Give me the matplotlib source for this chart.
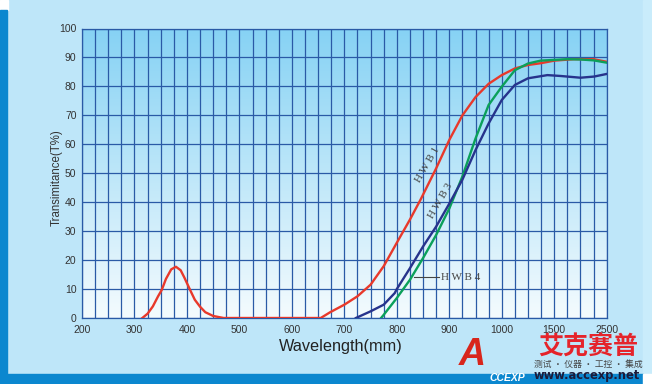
import numpy as np
import matplotlib.pyplot as plt
from matplotlib.colors import LinearSegmentedColormap
from matplotlib.patches import Rectangle

plt.rcParams['font.family'] = ['Liberation Sans', 'DejaVu Sans']

# transmittance curves (wavelength, T%)
hwb1_wl = [315, 325, 335, 345, 352, 360, 370, 379, 388, 395, 406, 415, 425, 435, 450, 470,
           550, 655, 673, 700, 725, 750, 775, 800, 825, 845, 875, 900, 925, 950, 975,
           1000, 1125, 1250, 1370, 1500, 1870, 2250, 2500]
hwb1_t = [0, 1.5, 4, 7.5, 9.7, 13.5, 16.8, 17.7, 16.5, 14, 9.7, 6.3, 3.9, 2, 0.7, 0,
          0, 0, 2.0, 4.6, 7.5, 11.5, 17.9, 26.0, 34.0, 40.8, 51.7, 61.5, 70.0, 76.3, 80.9,
          83.9, 86.2, 87.4, 88.0, 88.9, 89.4, 89.4, 88.5]

hwb3_wl = [722, 750, 775, 796, 800, 825, 850, 875, 900, 925, 950, 975, 1000, 1125, 1250,
           1435, 1620, 2000, 2260, 2500]
hwb3_t = [0, 2.3, 4.6, 8.6, 10.0, 17.2, 24.7, 31.6, 39.5, 47.8, 58.0, 67.2, 75.3, 80.5, 82.8,
          83.9, 83.6, 83.0, 83.4, 84.3]

hwb4_wl = [770, 775, 800, 825, 850, 875, 900, 925, 950, 975, 1000, 1125, 1250, 1370,
           1750, 2000, 2250, 2500]
hwb4_t = [0, 1.1, 6.9, 13.2, 20.7, 28.7, 37.8, 48.9, 62.0, 73.6, 79.9, 85.6, 87.9, 88.9,
          89.4, 89.3, 89.0, 88.2]

x_ticks = [200, 300, 400, 500, 600, 700, 800, 900, 1000, 1500, 2500]
y_ticks = [0, 10, 20, 30, 40, 50, 60, 70, 80, 90, 100]


# broken wavelength axis: 100 nm steps up to 1000, then 500, then 1000
def fwd(w):
    w = np.asarray(w, float)
    return np.where(w <= 1000, (w - 200) / 100,
                    np.where(w <= 1500, 8 + (w - 1000) / 500, 9 + (w - 1500) / 1000))


def inv(p):
    p = np.asarray(p, float)
    return np.where(p <= 8, 200 + 100 * p,
                    np.where(p <= 9, 1000 + 500 * (p - 8), 1500 + 1000 * (p - 9)))


W, H = 652, 384
fig = plt.figure(figsize=(W / 100, H / 100), dpi=100, facecolor='#bee6f9')

# frame decoration
def px_rect(x0, y0, x1, y1, color):
    fig.patches.append(Rectangle((x0 / W, 1 - y1 / H), (x1 - x0) / W, (y1 - y0) / H,
                                 transform=fig.transFigure, color=color, zorder=0))

px_rect(643, 0, 652, 374, '#c9ecfb')
px_rect(0, 0, 8, 10, 'white')
px_rect(0, 10, 7, 384, '#0b87cf')
px_rect(0, 374, 643, 384, '#0b87cf')
px_rect(643, 374, 652, 384, 'white')

ax = fig.add_axes([82 / W, 66 / H, 524.7 / W, 289.5 / H])
ax.set_xscale('function', functions=(fwd, inv))

cmap = LinearSegmentedColormap.from_list('bg', ['#f4fbfe', '#86d2f4'])
grad = np.linspace(0, 1, 256).reshape(-1, 1)
ax.imshow(grad, extent=[0, 1, 0, 1], transform=ax.transAxes, origin='lower',
          aspect='auto', cmap=cmap, zorder=0)
ax.set_xlim(200, 2500)
ax.set_ylim(0, 100)

grid_c = '#2a5aa6'
ax.set_xticks(x_ticks)
ax.set_xticks(inv(np.arange(0, 10.01, 0.25)), minor=True)
ax.set_yticks(y_ticks)
ax.grid(True, which='both', axis='x', color=grid_c, lw=0.9)
ax.grid(True, which='major', axis='y', color=grid_c, lw=0.9)
ax.tick_params(which='both', length=0, colors='#333333', labelsize=7.5)
ax.tick_params(axis='x', pad=5)
ax.tick_params(axis='y', pad=4)
for s in ax.spines.values():
    s.set_color(grid_c)
    s.set_linewidth(0.9)

ax.plot(hwb1_wl, hwb1_t, color='#e8392b', lw=1.7, zorder=3)
ax.plot(hwb4_wl, hwb4_t, color='#0ba05a', lw=1.7, zorder=3)
ax.plot(hwb3_wl, hwb3_t, color='#27338c', lw=1.7, zorder=3)

lab = dict(color='#444444', fontsize=8, family=['Liberation Serif', 'DejaVu Serif'])
ax.text(858, 53.0, 'H W B 1', rotation=60, ha='center', va='center', zorder=4, **lab)
ax.text(883, 40.5, 'H W B 3', rotation=60, ha='center', va='center', zorder=4, **lab)
ax.plot([832, 880], [14.3, 14.3], color='#444444', lw=0.8, zorder=4)
ax.text(885, 14.0, 'H W B 4', ha='left', va='center', zorder=4, **lab)

ax.set_ylabel('Transimitance(T%)', fontsize=8.3, color='#333333')
ax.yaxis.set_label_coords(-0.037, 0.484)
ax.set_xlabel('Wavelength(mm)', fontsize=11.7, color='#222222')
ax.xaxis.set_label_coords(0.4936, -0.072)

# site logo, bottom right
fig.text(472 / W, 1 - 373 / H, 'A', fontsize=27, fontweight='bold', style='italic',
         color='#d8261c', ha='center', va='bottom', zorder=5)
fig.text(507 / W, 1 - 378 / H, 'CCEXP', fontsize=7.5, fontweight='bold', style='italic',
         color='white', ha='center', va='center', zorder=5)
fig.text(588 / W, 1 - 348 / H, '艾克赛普', fontsize=18, fontweight='bold', color='#e5242b',
         family=['Noto Sans CJK SC'], ha='center', va='center', zorder=5)
fig.text(588 / W, 1 - 364 / H, '测试 · 仪器 · 工控 · 集成', fontsize=6.3, color='#444444',
         family=['Noto Sans CJK SC', 'DejaVu Sans'], ha='center', va='center', zorder=5)
fig.text(587 / W, 1 - 375 / H, 'www.accexp.net', fontsize=8.3, fontweight='bold',
         color='#1b1b3a', family=['DejaVu Sans'], ha='center', va='center', zorder=5)

plt.savefig('out.png', dpi=100, facecolor=fig.get_facecolor())
